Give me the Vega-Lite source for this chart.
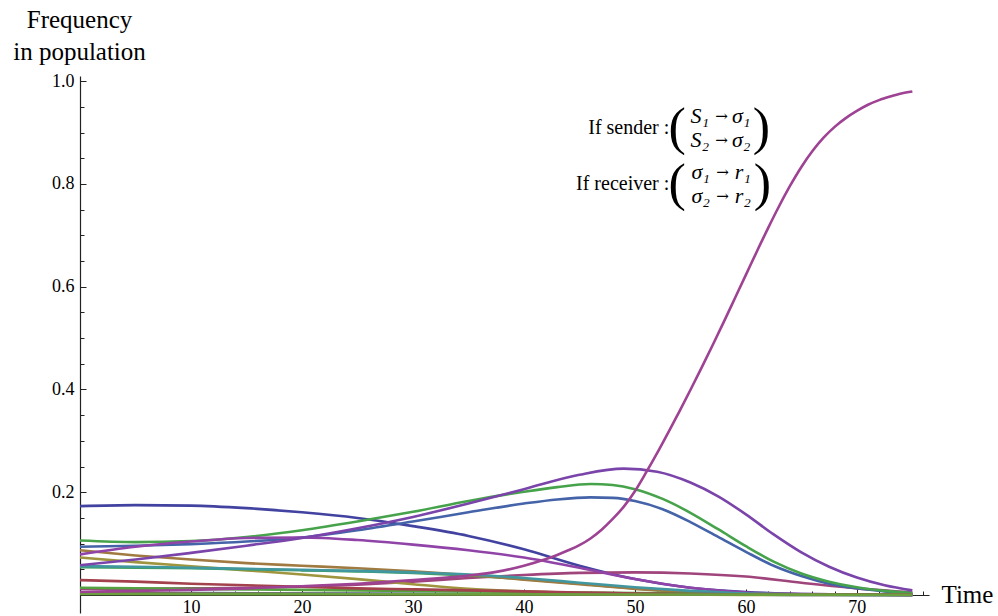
{
  "$schema": "https://vega.github.io/schema/vega-lite/v6.json",
  "width": 849,
  "height": 537,
  "autosize": {"type": "none"},
  "padding": {"left": 80, "top": 76, "right": 69, "bottom": 3},
  "background": "white",
  "config": {"view": {"stroke": null}, "font": "Liberation Serif"},
  "datasets": {
    "freq": [
      {"s": "strat01", "t": 0, "v": 0.173}, {"s": "strat01", "t": 5, "v": 0.175}, {"s": "strat01", "t": 10, "v": 0.174}, {"s": "strat01", "t": 15, "v": 0.169}, {"s": "strat01", "t": 20, "v": 0.161}, {"s": "strat01", "t": 25, "v": 0.150}, {"s": "strat01", "t": 30, "v": 0.134}, {"s": "strat01", "t": 35, "v": 0.115}, {"s": "strat01", "t": 40, "v": 0.089}, {"s": "strat01", "t": 45, "v": 0.057}, {"s": "strat01", "t": 50, "v": 0.031}, {"s": "strat01", "t": 55, "v": 0.014}, {"s": "strat01", "t": 60, "v": 0.006}, {"s": "strat01", "t": 65, "v": 0.002}, {"s": "strat01", "t": 70, "v": 0.001}, {"s": "strat01", "t": 75, "v": 0.0},

      {"s": "strat02", "t": 0, "v": 0.012}, {"s": "strat02", "t": 5, "v": 0.012}, {"s": "strat02", "t": 10, "v": 0.013}, {"s": "strat02", "t": 15, "v": 0.014}, {"s": "strat02", "t": 20, "v": 0.016}, {"s": "strat02", "t": 25, "v": 0.020}, {"s": "strat02", "t": 30, "v": 0.026}, {"s": "strat02", "t": 35, "v": 0.033}, {"s": "strat02", "t": 40, "v": 0.039}, {"s": "strat02", "t": 45, "v": 0.043}, {"s": "strat02", "t": 50, "v": 0.044}, {"s": "strat02", "t": 55, "v": 0.042}, {"s": "strat02", "t": 60, "v": 0.036}, {"s": "strat02", "t": 65, "v": 0.024}, {"s": "strat02", "t": 70, "v": 0.013}, {"s": "strat02", "t": 75, "v": 0.005},

      {"s": "strat03", "t": 0, "v": 0.073}, {"s": "strat03", "t": 5, "v": 0.064}, {"s": "strat03", "t": 10, "v": 0.056}, {"s": "strat03", "t": 15, "v": 0.048}, {"s": "strat03", "t": 20, "v": 0.040}, {"s": "strat03", "t": 25, "v": 0.031}, {"s": "strat03", "t": 30, "v": 0.021}, {"s": "strat03", "t": 35, "v": 0.012}, {"s": "strat03", "t": 40, "v": 0.007}, {"s": "strat03", "t": 45, "v": 0.004}, {"s": "strat03", "t": 50, "v": 0.002}, {"s": "strat03", "t": 55, "v": 0.001}, {"s": "strat03", "t": 60, "v": 0.0}, {"s": "strat03", "t": 75, "v": 0.0},

      {"s": "strat04", "t": 0, "v": 0.054}, {"s": "strat04", "t": 5, "v": 0.053}, {"s": "strat04", "t": 10, "v": 0.052}, {"s": "strat04", "t": 15, "v": 0.050}, {"s": "strat04", "t": 20, "v": 0.048}, {"s": "strat04", "t": 25, "v": 0.046}, {"s": "strat04", "t": 30, "v": 0.043}, {"s": "strat04", "t": 35, "v": 0.038}, {"s": "strat04", "t": 40, "v": 0.031}, {"s": "strat04", "t": 45, "v": 0.022}, {"s": "strat04", "t": 50, "v": 0.013}, {"s": "strat04", "t": 55, "v": 0.006}, {"s": "strat04", "t": 60, "v": 0.002}, {"s": "strat04", "t": 65, "v": 0.001}, {"s": "strat04", "t": 75, "v": 0.0},

      {"s": "strat05", "t": 0, "v": 0.094}, {"s": "strat05", "t": 5, "v": 0.096}, {"s": "strat05", "t": 10, "v": 0.099}, {"s": "strat05", "t": 15, "v": 0.104}, {"s": "strat05", "t": 20, "v": 0.112}, {"s": "strat05", "t": 25, "v": 0.126}, {"s": "strat05", "t": 30, "v": 0.143}, {"s": "strat05", "t": 35, "v": 0.161}, {"s": "strat05", "t": 40, "v": 0.178}, {"s": "strat05", "t": 43, "v": 0.186}, {"s": "strat05", "t": 46, "v": 0.190}, {"s": "strat05", "t": 48, "v": 0.189}, {"s": "strat05", "t": 50, "v": 0.183}, {"s": "strat05", "t": 52.5, "v": 0.167}, {"s": "strat05", "t": 55, "v": 0.142}, {"s": "strat05", "t": 57.5, "v": 0.113}, {"s": "strat05", "t": 60, "v": 0.084}, {"s": "strat05", "t": 62.5, "v": 0.057}, {"s": "strat05", "t": 65, "v": 0.037}, {"s": "strat05", "t": 67.5, "v": 0.022}, {"s": "strat05", "t": 70, "v": 0.013}, {"s": "strat05", "t": 72.5, "v": 0.007}, {"s": "strat05", "t": 75, "v": 0.003},

      {"s": "strat07", "t": 0, "v": 0.087}, {"s": "strat07", "t": 5, "v": 0.077}, {"s": "strat07", "t": 10, "v": 0.069}, {"s": "strat07", "t": 15, "v": 0.062}, {"s": "strat07", "t": 20, "v": 0.057}, {"s": "strat07", "t": 25, "v": 0.052}, {"s": "strat07", "t": 30, "v": 0.046}, {"s": "strat07", "t": 35, "v": 0.039}, {"s": "strat07", "t": 40, "v": 0.030}, {"s": "strat07", "t": 45, "v": 0.021}, {"s": "strat07", "t": 50, "v": 0.012}, {"s": "strat07", "t": 55, "v": 0.006}, {"s": "strat07", "t": 60, "v": 0.002}, {"s": "strat07", "t": 65, "v": 0.001}, {"s": "strat07", "t": 75, "v": 0.0},

      {"s": "strat08", "t": 0, "v": 0.106}, {"s": "strat08", "t": 5, "v": 0.103}, {"s": "strat08", "t": 10, "v": 0.105}, {"s": "strat08", "t": 15, "v": 0.113}, {"s": "strat08", "t": 20, "v": 0.126}, {"s": "strat08", "t": 25, "v": 0.143}, {"s": "strat08", "t": 30, "v": 0.162}, {"s": "strat08", "t": 35, "v": 0.183}, {"s": "strat08", "t": 40, "v": 0.201}, {"s": "strat08", "t": 43, "v": 0.210}, {"s": "strat08", "t": 46, "v": 0.216}, {"s": "strat08", "t": 48, "v": 0.214}, {"s": "strat08", "t": 50, "v": 0.206}, {"s": "strat08", "t": 52.5, "v": 0.187}, {"s": "strat08", "t": 55, "v": 0.160}, {"s": "strat08", "t": 57.5, "v": 0.128}, {"s": "strat08", "t": 60, "v": 0.095}, {"s": "strat08", "t": 62.5, "v": 0.065}, {"s": "strat08", "t": 65, "v": 0.042}, {"s": "strat08", "t": 67.5, "v": 0.026}, {"s": "strat08", "t": 70, "v": 0.015}, {"s": "strat08", "t": 72.5, "v": 0.008}, {"s": "strat08", "t": 75, "v": 0.004},

      {"s": "strat09", "t": 0, "v": 0.004}, {"s": "strat09", "t": 25, "v": 0.003}, {"s": "strat09", "t": 50, "v": 0.001}, {"s": "strat09", "t": 75, "v": 0.0},

      {"s": "strat10", "t": 0, "v": 0.079}, {"s": "strat10", "t": 5, "v": 0.094}, {"s": "strat10", "t": 10, "v": 0.104}, {"s": "strat10", "t": 15, "v": 0.111}, {"s": "strat10", "t": 20, "v": 0.112}, {"s": "strat10", "t": 25, "v": 0.107}, {"s": "strat10", "t": 30, "v": 0.098}, {"s": "strat10", "t": 35, "v": 0.087}, {"s": "strat10", "t": 40, "v": 0.073}, {"s": "strat10", "t": 45, "v": 0.053}, {"s": "strat10", "t": 50, "v": 0.031}, {"s": "strat10", "t": 55, "v": 0.014}, {"s": "strat10", "t": 60, "v": 0.005}, {"s": "strat10", "t": 65, "v": 0.002}, {"s": "strat10", "t": 70, "v": 0.001}, {"s": "strat10", "t": 75, "v": 0.0},

      {"s": "strat11", "t": 0, "v": 0.003}, {"s": "strat11", "t": 25, "v": 0.002}, {"s": "strat11", "t": 50, "v": 0.001}, {"s": "strat11", "t": 75, "v": 0.0},

      {"s": "strat12", "t": 0, "v": 0.014}, {"s": "strat12", "t": 10, "v": 0.012}, {"s": "strat12", "t": 20, "v": 0.010}, {"s": "strat12", "t": 30, "v": 0.008}, {"s": "strat12", "t": 40, "v": 0.006}, {"s": "strat12", "t": 50, "v": 0.004}, {"s": "strat12", "t": 60, "v": 0.002}, {"s": "strat12", "t": 70, "v": 0.001}, {"s": "strat12", "t": 75, "v": 0.001},

      {"s": "strat13", "t": 0, "v": 0.056}, {"s": "strat13", "t": 5, "v": 0.055}, {"s": "strat13", "t": 10, "v": 0.053}, {"s": "strat13", "t": 15, "v": 0.051}, {"s": "strat13", "t": 20, "v": 0.049}, {"s": "strat13", "t": 25, "v": 0.047}, {"s": "strat13", "t": 30, "v": 0.044}, {"s": "strat13", "t": 35, "v": 0.040}, {"s": "strat13", "t": 40, "v": 0.033}, {"s": "strat13", "t": 45, "v": 0.024}, {"s": "strat13", "t": 50, "v": 0.015}, {"s": "strat13", "t": 55, "v": 0.008}, {"s": "strat13", "t": 60, "v": 0.003}, {"s": "strat13", "t": 65, "v": 0.001}, {"s": "strat13", "t": 75, "v": 0.0},

      {"s": "strat14", "t": 0, "v": 0.058}, {"s": "strat14", "t": 5, "v": 0.069}, {"s": "strat14", "t": 10, "v": 0.082}, {"s": "strat14", "t": 15, "v": 0.096}, {"s": "strat14", "t": 20, "v": 0.111}, {"s": "strat14", "t": 25, "v": 0.130}, {"s": "strat14", "t": 30, "v": 0.152}, {"s": "strat14", "t": 35, "v": 0.178}, {"s": "strat14", "t": 40, "v": 0.206}, {"s": "strat14", "t": 45, "v": 0.234}, {"s": "strat14", "t": 49, "v": 0.246}, {"s": "strat14", "t": 52, "v": 0.240}, {"s": "strat14", "t": 55, "v": 0.219}, {"s": "strat14", "t": 57.5, "v": 0.192}, {"s": "strat14", "t": 60, "v": 0.157}, {"s": "strat14", "t": 62.5, "v": 0.118}, {"s": "strat14", "t": 65, "v": 0.083}, {"s": "strat14", "t": 67.5, "v": 0.055}, {"s": "strat14", "t": 70, "v": 0.034}, {"s": "strat14", "t": 72.5, "v": 0.019}, {"s": "strat14", "t": 75, "v": 0.009},

      {"s": "strat15", "t": 0, "v": 0.029}, {"s": "strat15", "t": 5, "v": 0.026}, {"s": "strat15", "t": 10, "v": 0.022}, {"s": "strat15", "t": 15, "v": 0.019}, {"s": "strat15", "t": 20, "v": 0.016}, {"s": "strat15", "t": 25, "v": 0.013}, {"s": "strat15", "t": 30, "v": 0.011}, {"s": "strat15", "t": 35, "v": 0.009}, {"s": "strat15", "t": 40, "v": 0.007}, {"s": "strat15", "t": 45, "v": 0.005}, {"s": "strat15", "t": 50, "v": 0.003}, {"s": "strat15", "t": 55, "v": 0.002}, {"s": "strat15", "t": 60, "v": 0.001}, {"s": "strat15", "t": 75, "v": 0.001},

      {"s": "strat16", "t": 0, "v": 0.002}, {"s": "strat16", "t": 25, "v": 0.0015}, {"s": "strat16", "t": 50, "v": 0.001}, {"s": "strat16", "t": 75, "v": 0.0005},

      {"s": "strat06", "t": 0, "v": 0.006}, {"s": "strat06", "t": 5, "v": 0.008}, {"s": "strat06", "t": 10, "v": 0.010}, {"s": "strat06", "t": 15, "v": 0.013}, {"s": "strat06", "t": 20, "v": 0.017}, {"s": "strat06", "t": 25, "v": 0.022}, {"s": "strat06", "t": 30, "v": 0.029}, {"s": "strat06", "t": 35, "v": 0.038}, {"s": "strat06", "t": 37.5, "v": 0.045}, {"s": "strat06", "t": 40, "v": 0.057}, {"s": "strat06", "t": 42, "v": 0.070}, {"s": "strat06", "t": 43, "v": 0.078}, {"s": "strat06", "t": 44, "v": 0.087}, {"s": "strat06", "t": 45, "v": 0.097}, {"s": "strat06", "t": 46, "v": 0.110}, {"s": "strat06", "t": 47, "v": 0.127}, {"s": "strat06", "t": 48, "v": 0.148}, {"s": "strat06", "t": 49, "v": 0.172}, {"s": "strat06", "t": 50, "v": 0.202}, {"s": "strat06", "t": 51, "v": 0.238}, {"s": "strat06", "t": 52, "v": 0.276}, {"s": "strat06", "t": 53, "v": 0.316}, {"s": "strat06", "t": 54, "v": 0.357}, {"s": "strat06", "t": 55, "v": 0.399}, {"s": "strat06", "t": 56, "v": 0.442}, {"s": "strat06", "t": 57, "v": 0.486}, {"s": "strat06", "t": 58, "v": 0.531}, {"s": "strat06", "t": 59, "v": 0.577}, {"s": "strat06", "t": 60, "v": 0.623}, {"s": "strat06", "t": 61, "v": 0.669}, {"s": "strat06", "t": 62, "v": 0.714}, {"s": "strat06", "t": 63, "v": 0.757}, {"s": "strat06", "t": 64, "v": 0.797}, {"s": "strat06", "t": 65, "v": 0.833}, {"s": "strat06", "t": 66, "v": 0.864}, {"s": "strat06", "t": 67, "v": 0.890}, {"s": "strat06", "t": 68, "v": 0.911}, {"s": "strat06", "t": 69, "v": 0.928}, {"s": "strat06", "t": 70, "v": 0.942}, {"s": "strat06", "t": 71, "v": 0.954}, {"s": "strat06", "t": 72, "v": 0.963}, {"s": "strat06", "t": 73, "v": 0.970}, {"s": "strat06", "t": 74, "v": 0.976}, {"s": "strat06", "t": 75, "v": 0.980}
    ],
    "notes": [
      {"role": "label", "t": 53.1, "v": 0.908, "text": "If  sender :"},
      {"role": "label", "t": 53.1, "v": 0.800, "text": "If receiver :"},
      {"role": "lhs", "t": 55.0, "v": 0.932, "text": "S₁"},
      {"role": "lhs", "t": 55.0, "v": 0.885, "text": "S₂"},
      {"role": "lhs", "t": 55.1, "v": 0.824, "text": "σ₁"},
      {"role": "lhs", "t": 55.1, "v": 0.776, "text": "σ₂"},
      {"role": "arrow", "t": 57.8, "v": 0.932, "text": "→"},
      {"role": "arrow", "t": 57.8, "v": 0.885, "text": "→"},
      {"role": "arrow", "t": 57.9, "v": 0.824, "text": "→"},
      {"role": "arrow", "t": 57.9, "v": 0.776, "text": "→"},
      {"role": "rhs", "t": 58.75, "v": 0.932, "text": "σ₁"},
      {"role": "rhs", "t": 58.75, "v": 0.885, "text": "σ₂"},
      {"role": "rhs", "t": 59.0, "v": 0.824, "text": "r₁"},
      {"role": "rhs", "t": 59.0, "v": 0.776, "text": "r₂"},
      {"role": "paren", "t": 53.8, "v": 0.908, "text": "("},
      {"role": "paren", "t": 61.4, "v": 0.908, "text": ")"},
      {"role": "paren", "t": 53.8, "v": 0.800, "text": "("},
      {"role": "paren", "t": 61.5, "v": 0.800, "text": ")"}
    ]
  },
  "encoding": {
    "x": {
      "field": "t",
      "type": "quantitative",
      "scale": {"domain": [0, 76.5], "nice": false, "zero": false},
      "axis": {
        "values": [0, 2, 4, 6, 8, 10, 12, 14, 16, 18, 20, 22, 24, 26, 28, 30, 32, 34, 36, 38, 40, 42, 44, 46, 48, 50, 52, 54, 56, 58, 60, 62, 64, 66, 68, 70, 72, 74, 76],
        "labelExpr": "datum.value > 0 && datum.value % 10 === 0 ? datum.label : ''",
        "labelFont": "Liberation Serif",
        "labelFontSize": 18,
        "labelColor": "#000",
        "labelBaseline": "alphabetic",
        "labelPadding": 23,
        "labelOverlap": false,
        "labelFlush": false,
        "tickSize": {"condition": {"test": "datum.value % 10 === 0", "value": -6}, "value": -4},
        "tickColor": "#222",
        "tickWidth": 1,
        "domainColor": "#222",
        "domainWidth": 1.2,
        "grid": false,
        "offset": -18,
        "title": "Time",
        "titleFont": "Liberation Serif",
        "titleFontSize": 25,
        "titleFontWeight": "normal",
        "titleColor": "#000",
        "titleAlign": "left",
        "titleBaseline": "alphabetic",
        "titleX": 861,
        "titleY": 7
      }
    },
    "y": {
      "field": "v",
      "type": "quantitative",
      "scale": {"domain": [-0.035, 1.01], "nice": false, "zero": false},
      "axis": {
        "values": [0, 0.05, 0.1, 0.15, 0.2, 0.25, 0.3, 0.35, 0.4, 0.45, 0.5, 0.55, 0.6, 0.65, 0.7, 0.75, 0.8, 0.85, 0.9, 0.95, 1.0],
        "labelExpr": "datum.value > 0.01 && abs(datum.value * 5 - round(datum.value * 5)) < 0.001 ? format(datum.value, '.1f') : ''",
        "labelFont": "Liberation Serif",
        "labelFontSize": 18,
        "labelColor": "#000",
        "labelPadding": 12,
        "labelOverlap": false,
        "labelFlush": false,
        "tickSize": {"condition": {"test": "abs(datum.value * 5 - round(datum.value * 5)) < 0.001", "value": -6}, "value": -4},
        "tickColor": "#222",
        "tickWidth": 1,
        "domainColor": "#222",
        "domainWidth": 1.2,
        "grid": false,
        "title": ["Frequency", "in population"],
        "titleFont": "Liberation Serif",
        "titleFontSize": 25,
        "titleFontWeight": "normal",
        "titleColor": "#000",
        "titleAngle": 0,
        "titleAlign": "center",
        "titleBaseline": "alphabetic",
        "titleLineHeight": 32,
        "titleX": -1,
        "titleY": -49
      }
    }
  },
  "layer": [
    {
      "data": {"name": "freq"},
      "mark": {"type": "line", "interpolate": "monotone", "strokeWidth": 2.6, "clip": true},
      "encoding": {
        "color": {
          "field": "s",
          "type": "nominal",
          "legend": null,
          "scale": {
            "domain": ["strat01", "strat02", "strat03", "strat04", "strat05", "strat06", "strat07", "strat08", "strat09", "strat10", "strat11", "strat12", "strat13", "strat14", "strat15", "strat16"],
            "range": ["#4242a0", "#a0447c", "#a0953f", "#3fa05e", "#4463a8", "#9e4293", "#a07a40", "#47a34b", "#3f70a0", "#9044a8", "#a0613f", "#55a03f", "#41979f", "#7a44aa", "#a3424c", "#6ca03f"]
          }
        }
      }
    },
    {
      "data": {"name": "notes"},
      "transform": [{"filter": "datum.role === 'label'"}],
      "mark": {"type": "text", "align": "right", "baseline": "middle", "font": "Liberation Serif", "fontSize": 20, "color": "#000"},
      "encoding": {"text": {"field": "text"}}
    },
    {
      "data": {"name": "notes"},
      "transform": [{"filter": "datum.role === 'lhs' || datum.role === 'rhs'"}],
      "mark": {"type": "text", "align": "left", "baseline": "middle", "font": "Liberation Serif", "fontStyle": "italic", "fontSize": 22, "color": "#000"},
      "encoding": {"text": {"field": "text"}}
    },
    {
      "data": {"name": "notes"},
      "transform": [{"filter": "datum.role === 'arrow'"}],
      "mark": {"type": "text", "align": "center", "baseline": "middle", "font": "DejaVu Serif", "fontSize": 15, "color": "#000"},
      "encoding": {"text": {"field": "text"}}
    },
    {
      "data": {"name": "notes"},
      "transform": [{"filter": "datum.role === 'paren'"}],
      "mark": {"type": "text", "align": "center", "baseline": "middle", "font": "Liberation Serif", "fontSize": 52, "color": "#000"},
      "encoding": {"text": {"field": "text"}}
    }
  ]
}
